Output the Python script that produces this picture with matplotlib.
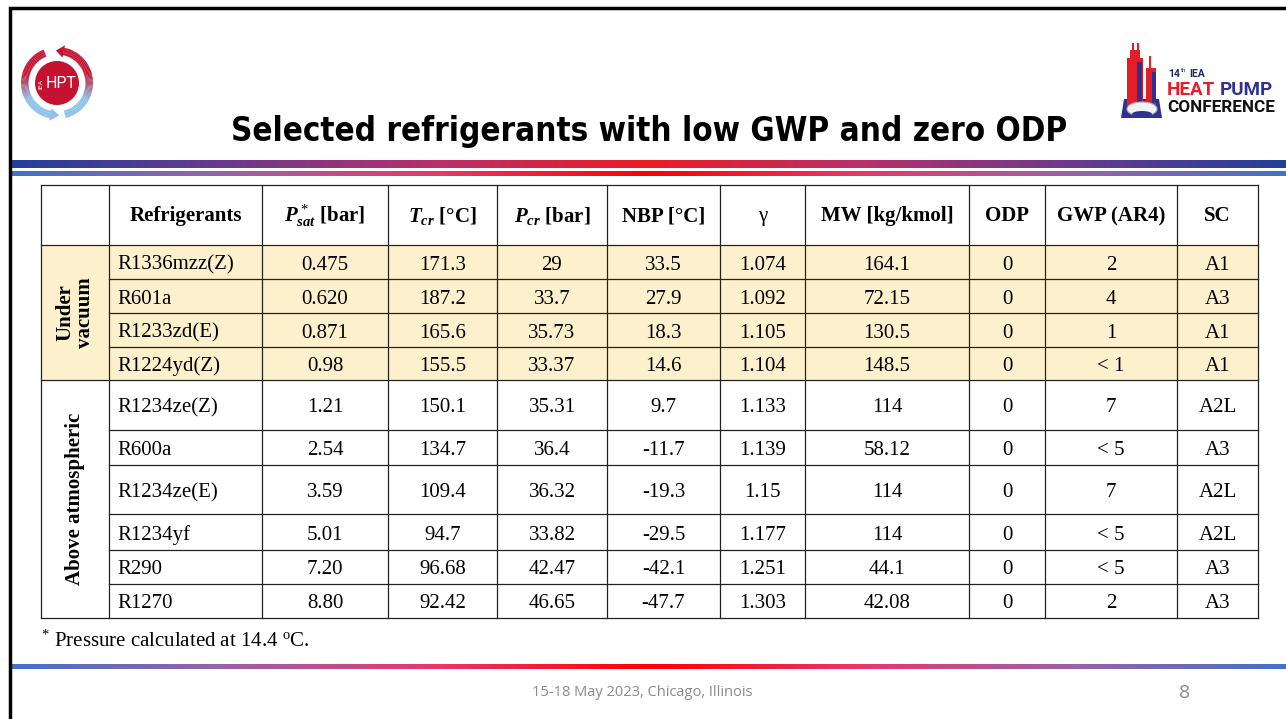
import numpy as np
import matplotlib.pyplot as plt
from matplotlib.colors import LinearSegmentedColormap, to_rgb
from matplotlib.patches import Rectangle, Circle, Wedge, Polygon, Ellipse

plt.rcParams["mathtext.fontset"] = "custom"
plt.rcParams["mathtext.rm"] = "Liberation Serif"
plt.rcParams["mathtext.it"] = "Liberation Serif:italic"
plt.rcParams["mathtext.bf"] = "Liberation Serif:bold"
plt.rcParams["mathtext.bfit"] = "Liberation Serif:italic:bold"

# ---- table data ----
groups = ["Under\nvacuum", "Above atmospheric"]
group_sizes = [4, 6]
headers = [
    "Refrigerants",
    r"$\mathbfit{P}_{\mathbfit{sat}}^{\,*}$ [bar]",
    r"$\mathbfit{T}_{\mathbfit{cr}}$ [°C]",
    r"$\mathbfit{P}_{\mathbfit{cr}}$ [bar]",
    "NBP [°C]",
    "γ",
    "MW [kg/kmol]",
    "ODP",
    "GWP (AR4)",
    "SC",
]
names = ["R1336mzz(Z)", "R601a", "R1233zd(E)", "R1224yd(Z)", "R1234ze(Z)",
         "R600a", "R1234ze(E)", "R1234yf", "R290", "R1270"]
psat = ["0.475", "0.620", "0.871", "0.98", "1.21", "2.54", "3.59", "5.01", "7.20", "8.80"]
tcr = ["171.3", "187.2", "165.6", "155.5", "150.1", "134.7", "109.4", "94.7", "96.68", "92.42"]
pcr = ["29", "33.7", "35.73", "33.37", "35.31", "36.4", "36.32", "33.82", "42.47", "46.65"]
nbp = ["33.5", "27.9", "18.3", "14.6", "9.7", "-11.7", "-19.3", "-29.5", "-42.1", "-47.7"]
gamma = ["1.074", "1.092", "1.105", "1.104", "1.133", "1.139", "1.15", "1.177", "1.251", "1.303"]
mw = ["164.1", "72.15", "130.5", "148.5", "114", "58.12", "114", "114", "44.1", "42.08"]
odp = ["0", "0", "0", "0", "0", "0", "0", "0", "0", "0"]
gwp = ["2", "4", "1", "< 1", "7", "< 5", "7", "< 5", "< 5", "2"]
sc = ["A1", "A3", "A1", "A1", "A2L", "A3", "A2L", "A2L", "A3", "A3"]
columns = [names, psat, tcr, pcr, nbp, gamma, mw, odp, gwp, sc]

title = "Selected refrigerants with low GWP and zero ODP"
footnote = r"$^{*}$ Pressure calculated at 14.4 $^{\mathrm{o}}$C."
footer = "15-18 May 2023, Chicago, Illinois"
page = "8"

# ---- layout (pixels) ----
col_x = [41, 109, 262, 388, 497, 607, 720, 805, 969, 1045, 1177, 1258]
row_y = [185, 245, 279, 313, 347, 380, 430, 465, 514, 550, 584, 618]
vac_fill = "#fdf0cc"
serif = "Liberation Serif"

fig = plt.figure(figsize=(12.86, 7.19), dpi=100)
ax = fig.add_axes([0, 0, 1, 1])


def grad_bar(x0, x1, y0, y1, colors):
    cmap = LinearSegmentedColormap.from_list("g", colors)
    g = np.linspace(0, 1, 512)[None, :]
    ax.imshow(g, cmap=cmap, extent=(x0, x1, y1, y0), aspect="auto", interpolation="bilinear", zorder=1)


thick = ["#22409a", "#6a3a8c", "#b8306a", "#ed1c24", "#b8306a", "#6a3a8c", "#22409a"]
thin = ["#4472c4", "#9a62a8", "#e8386a", "#ff0000", "#e8386a", "#9a62a8", "#4472c4"]
grad_bar(12, 1286, 160, 168, thick)
grad_bar(12, 1286, 171.5, 176.5, thin)
grad_bar(12, 1286, 664, 669, thin)

# slide frame
ax.plot([10, 10, 1286], [719, 8, 8], color="black", lw=2.5, solid_joinstyle="miter", zorder=5)

# ---- left logo ----
cx, cy, r_out = 57, 83, 36
red, blue = np.array(to_rgb("#c41230")), np.array(to_rgb("#8cc2ea"))


def ring_color(phi):
    s = (np.sin(np.radians(phi)) + 1) / 2
    s = np.clip((s - 0.25) / 0.4, 0, 1)
    return blue * (1 - s) + red * s


for a, b in [(112, 258), (284, 438)]:
    for p in np.arange(a, b, 2.0):
        ax.add_patch(Wedge((cx, cy), r_out, -(p + 2.3), -p, width=7.5,
                           fc=ring_color(p + 1), ec="none", zorder=3))


def pt(phi, r):
    return (cx + r * np.cos(np.radians(phi)), cy - r * np.sin(np.radians(phi)))


for end, tip in [(258, 274), (438, 452)]:
    ax.add_patch(Polygon([pt(end, r_out + 2.5), pt(end, r_out - 10), pt(tip, r_out - 3.5)],
                         fc=ring_color(end), ec="none", zorder=3))
ax.add_patch(Circle((cx, cy), 22, fc="#c41230", ec="none", zorder=3))
ax.text(cx + 4, cy + 1, "HPT", color="white", fontsize=11.5, family="Roboto",
        ha="center", va="center", zorder=4)
ax.text(cx - 16, cy + 1, "IEA", color="white", fontsize=4.5, rotation=90,
        ha="center", va="center", zorder=4)

# ---- right logo ----
lred, lblue = "#e41e26", "#2e3192"
ax.add_patch(Polygon([(1121, 118), (1124, 99), (1159, 99), (1162, 118)], fc=lblue, ec="none", zorder=3))
ax.add_patch(Rectangle((1127, 58), 16, 48, fc=lred, ec="none", zorder=3))
ax.add_patch(Rectangle((1130, 50), 10, 10, fc=lred, ec="none", zorder=3))
ax.add_patch(Rectangle((1137, 62), 5, 42, fc=lblue, ec="none", zorder=3))
ax.plot([1133, 1133], [44, 51], color=lred, lw=1.5, zorder=3)
ax.plot([1137.5, 1137.5], [44, 51], color=lred, lw=1.5, zorder=3)
ax.add_patch(Rectangle((1146, 68), 10, 37, fc=lred, ec="none", zorder=3))
ax.add_patch(Rectangle((1152, 72), 3.5, 31, fc=lblue, ec="none", zorder=3))
ax.plot([1150, 1150], [57, 69], color=lred, lw=1.5, zorder=3)
ax.add_patch(Ellipse((1142, 109), 30, 14, fc="#f2f2f2", ec="#b0b0b0", lw=0.8, zorder=4))
ax.add_patch(Ellipse((1142, 114), 20, 6, fc=lblue, ec="none", zorder=4))
ax.text(1168, 74, "14", fontsize=7.5, color="#1f2a6b", family="Roboto",
        ha="left", va="center", fontweight="bold")
ax.text(1181, 70, "th", fontsize=4.5, color="#1f2a6b", family="Roboto", ha="left", va="center")
ax.text(1189, 74, "IEA", fontsize=7.5, color="#1f2a6b", family="Roboto",
        ha="left", va="center", fontweight="bold")
ax.text(1167, 90, "HEAT", fontsize=13.5, color=lred, family="Roboto",
        fontweight="bold", ha="left", va="center")
ax.text(1220, 90, "PUMP", fontsize=13.5, color=lblue, family="Roboto",
        fontweight="bold", ha="left", va="center")
ax.text(1167, 107, "CONFERENCE", fontsize=12.3, color="#111111", family="Roboto",
        fontweight="bold", ha="left", va="center")

# ---- title ----
ax.text(649, 131, title, fontsize=23.8, fontweight="bold", family="DejaVu Sans",
        fontstretch="condensed", ha="center", va="center", color="black")

# ---- table ----
ax.add_patch(Rectangle((col_x[0], row_y[1]), col_x[-1] - col_x[0], row_y[5] - row_y[1],
                       fc=vac_fill, ec="none", zorder=1))
lc = "#222222"
for i, y in enumerate(row_y):
    x0 = col_x[0] if i in (0, 1, 5, len(row_y) - 1) else col_x[1]
    ax.plot([x0, col_x[-1]], [y, y], color=lc, lw=0.9, zorder=2)
for x in col_x:
    ax.plot([x, x], [row_y[0], row_y[-1]], color=lc, lw=0.9, zorder=2)

hy = (row_y[0] + row_y[1]) / 2 + 1
for j, h in enumerate(headers):
    xc = (col_x[j + 1] + col_x[j + 2]) / 2
    ax.text(xc, hy, h, fontsize=15, family=serif, fontweight="normal" if h == "γ" else "bold",
            ha="center", va="center")

for j, col in enumerate(columns):
    for i, v in enumerate(col):
        yc = (row_y[i + 1] + row_y[i + 2]) / 2 + 3
        if j == 0:
            ax.text(col_x[1] + 8, yc, v, fontsize=15, family=serif, ha="left", va="center")
        else:
            xc = (col_x[j + 1] + col_x[j + 2]) / 2
            ax.text(xc, yc, v, fontsize=15, family=serif, ha="center", va="center")

start = 1
for g, n in zip(groups, group_sizes):
    yc = (row_y[start] + row_y[start + n]) / 2
    ax.text((col_x[0] + col_x[1]) / 2, yc, g, fontsize=15, family=serif, fontweight="bold",
            rotation=90, ha="center", va="center", linespacing=1.0, multialignment="center")
    start += n

ax.text(col_x[0], 641, footnote, fontsize=15, family=serif, ha="left", va="center")

# ---- footer ----
ax.text(642, 693, footer, fontsize=10.5, family="Open Sans", color="#8a8a8a", ha="center", va="center")
ax.text(1185, 693, page, fontsize=14, family="Open Sans", color="#8a8a8a", ha="center", va="center")

ax.set_xlim(0, 1286)
ax.set_ylim(719, 0)
ax.axis("off")
fig.savefig("out.png", dpi=100, facecolor="white")
